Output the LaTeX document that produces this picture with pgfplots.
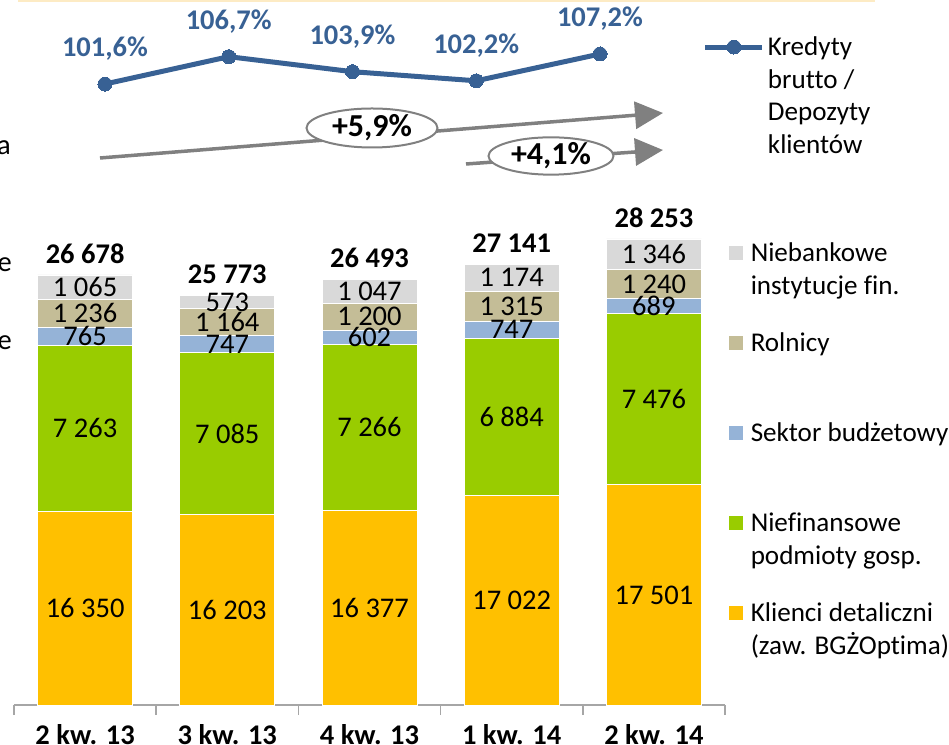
\documentclass[border=0pt]{standalone}
\usepackage{pgfplots}
\pgfplotsset{compat=1.18}
\usepackage{pgfplotstable}
\usepackage{fontspec}
\setmainfont{Carlito}[Ligatures=NoCommon]
\usetikzlibrary{arrows.meta,shapes.geometric}
\definecolor{cYel}{HTML}{FFC000}
\definecolor{cGrn}{HTML}{99CC00}
\definecolor{cBlu}{HTML}{95B3D7}
\definecolor{cTan}{HTML}{C4BD97}
\definecolor{cGry}{HTML}{D9D9D9}
\definecolor{cLine}{HTML}{386194}
\definecolor{cArr}{HTML}{808080}
\definecolor{cAxis}{HTML}{A6A6A6}
\definecolor{cTop}{HTML}{FDEBC4}
\newcommand\bigf{\fontsize{28.5bp}{32.5bp}\selectfont}
\newcommand\legf{\fontsize{27.1bp}{32.5bp}\selectfont}
\newcommand\ellf{\fontsize{32bp}{36bp}\selectfont}
\newcommand\lines[1]{\begin{tabular}[t]{@{}l@{}}#1\end{tabular}}

\pgfplotstableread{
x yel grn blu tan gry
0 16350 7263 765 1236 1065
1 16203 7085 747 1164 573
2 16377 7266 602 1200 1047
3 17022 6884 747 1315 1174
4 17501 7476 689 1240 1346
}\bardata

\pgfplotstableread{
x total label
0 26678 {26 678}
1 25773 {25 773}
2 26493 {26 493}
3 27141 {27 141}
4 28253 {28 253}
}\totdata

\pgfplotsset{
  baraxis/.style={at={(14bp,40bp)}, anchor=south west,
    scale only axis, width=711bp, height=506bp,
    xmin=-0.5, xmax=4.5, ymin=7865, ymax=30000},
  seglabel/.style={only marks, mark=none, nodes near coords,
    every node near coord/.append style={anchor=center, font=\bigf, text=black}},
}

\begin{document}
\begin{tikzpicture}
\path[use as bounding box] (0,0) rectangle (949bp,745bp);
\draw[cTop, line width=2bp] (18bp,744bp) -- (875bp,744bp);

% cut-off letters at the left edge
\node[anchor=base east, inner sep=0pt, font=\bigf] at (11bp,590bp) {a};
\node[anchor=base east, inner sep=0pt, font=\bigf] at (12bp,473bp) {e};
\node[anchor=base east, inner sep=0pt, font=\bigf] at (12bp,395bp) {e};

\begin{axis}[
  baraxis,
  ybar stacked, bar width=95bp,
  axis y line=none, axis x line*=bottom,
  x axis line style={draw=cAxis, line width=1.5bp, -},
  xtick={0,1,2,3,4},
  xticklabels={2 kw. 13, 3 kw. 13, 4 kw. 13, 1 kw. 14, 2 kw. 14},
  major tick length=0pt,
  extra x ticks={-0.5,0.5,1.5,2.5,3.5,4.5}, extra x tick labels={},
  extra x tick style={major tick length=10bp, tick align=outside},
  x tick style={draw=cAxis, line width=1.5bp},
  xticklabel style={font=\bigf\bfseries, anchor=base, yshift=-39bp},
  reverse legend,
  legend cell align=left,
  legend style={at={(axis description cs:1.00422,0.916)}, anchor=north west,
    draw=none, fill=none, inner sep=0pt, outer sep=0pt, font=\legf,
    column sep=7bp, row sep=0pt,
    nodes={inner sep=0pt, anchor=base west, text height=20bp, text depth=70bp}},
  legend image code/.code={\fill[#1] (0bp,1bp) rectangle (15bp,16bp);},
]
\addplot[fill=cYel, draw=white, line width=0.75bp] table[x=x,y=yel]{\bardata};
\addlegendentry{\lines{Klienci detaliczni\\(zaw. BGŻOptima)}}
\addplot[fill=cGrn, draw=white, line width=0.75bp] table[x=x,y=grn]{\bardata};
\addlegendentry{\lines{Niefinansowe\\podmioty gosp.}}
\addplot[fill=cBlu, draw=white, line width=0.75bp] table[x=x,y=blu]{\bardata};
\addlegendentry{\lines{Sektor budżetowy}}
\addplot[fill=cTan, draw=white, line width=0.75bp] table[x=x,y=tan]{\bardata};
\addlegendentry{\lines{Rolnicy}}
\addplot[fill=cGry, draw=white, line width=0.75bp] table[x=x,y=gry]{\bardata};
\addlegendentry{\lines{Niebankowe\\instytucje fin.}}
\end{axis}

% segment values (centred in each visible segment) and totals above the bars
\begin{axis}[baraxis, hide axis, clip=false,
  /pgf/number format/assume math mode=true,
  /pgf/number format/fixed,
  /pgf/number format/precision=0,
  /pgf/number format/1000 sep={\ }]
\addplot[seglabel, point meta=\thisrow{yel}] table[x=x, y expr={(\thisrow{yel}+7865)/2}]{\bardata};
\addplot[seglabel, point meta=\thisrow{grn}] table[x=x, y expr={\thisrow{yel}+\thisrow{grn}/2}]{\bardata};
\addplot[seglabel, point meta=\thisrow{blu}] table[x=x, y expr={\thisrow{yel}+\thisrow{grn}+\thisrow{blu}/2}]{\bardata};
\addplot[seglabel, point meta=\thisrow{tan}] table[x=x, y expr={\thisrow{yel}+\thisrow{grn}+\thisrow{blu}+\thisrow{tan}/2}]{\bardata};
\addplot[seglabel, point meta=\thisrow{gry}] table[x=x, y expr={\thisrow{yel}+\thisrow{grn}+\thisrow{blu}+\thisrow{tan}+\thisrow{gry}/2}]{\bardata};
\addplot[only marks, mark=none, nodes near coords, point meta=explicit symbolic,
  every node near coord/.append style={anchor=center, yshift=21bp, font=\bigf\bfseries, text=black}]
  table[x=x, y=total, meta=label]{\totdata};
\end{axis}

\begin{axis}[
  at={(105bp,652.4bp)}, anchor=south west,
  scale only axis, width=495bp, height=53.6bp,
  xmin=0, xmax=4, ymin=100, ymax=110,
  hide axis, clip=false,
  legend cell align=left,
  legend style={at={(axis description cs:1.208,1.065)}, anchor=north west,
    draw=none, fill=none, inner sep=0pt, outer sep=0pt, font=\legf,
    column sep=3bp,
    nodes={inner sep=0pt, anchor=base west, text height=20bp}},
  legend image code/.code={\draw[mark repeat=2,mark phase=2,#1] plot coordinates {(0bp,8.5bp) (28.5bp,8.5bp) (57bp,8.5bp)};},
]
\addplot[color=cLine, line width=5bp, mark=*, mark size=7bp, mark options={fill=cLine, line width=0pt},
  nodes near coords, point meta=explicit symbolic,
  every node near coord/.append style={anchor=center, yshift=35bp, font=\bigf\bfseries, text=cLine}]
  coordinates {(0,101.6) [{101,6\%}] (1,106.7) [{106,7\%}] (2,103.9) [{103,9\%}] (3,102.2) [{102,2\%}] (4,107.2) [{107,2\%}]};
\addlegendentry{\lines{Kredyty\\brutto /\\Depozyty\\klientów}}
\end{axis}

% growth arrows
\draw[cArr, line width=3.5bp, -{Triangle[length=28bp,width=27bp]}] (100bp,587bp) -- (663bp,632bp);
\draw[cArr, line width=3.5bp, -{Triangle[length=28bp,width=27bp]}] (466bp,581bp) -- (663bp,595bp);
\node[ellipse, draw=cArr, line width=2bp, fill=white, minimum width=131bp, minimum height=39bp, inner sep=0pt, font=\ellf\bfseries] at (372bp,617bp) {+5,9\%};
\node[ellipse, draw=cArr, line width=2bp, fill=white, minimum width=125bp, minimum height=35bp, inner sep=0pt, font=\ellf\bfseries] at (551bp,589bp) {+4,1\%};
\end{tikzpicture}
\end{document}
